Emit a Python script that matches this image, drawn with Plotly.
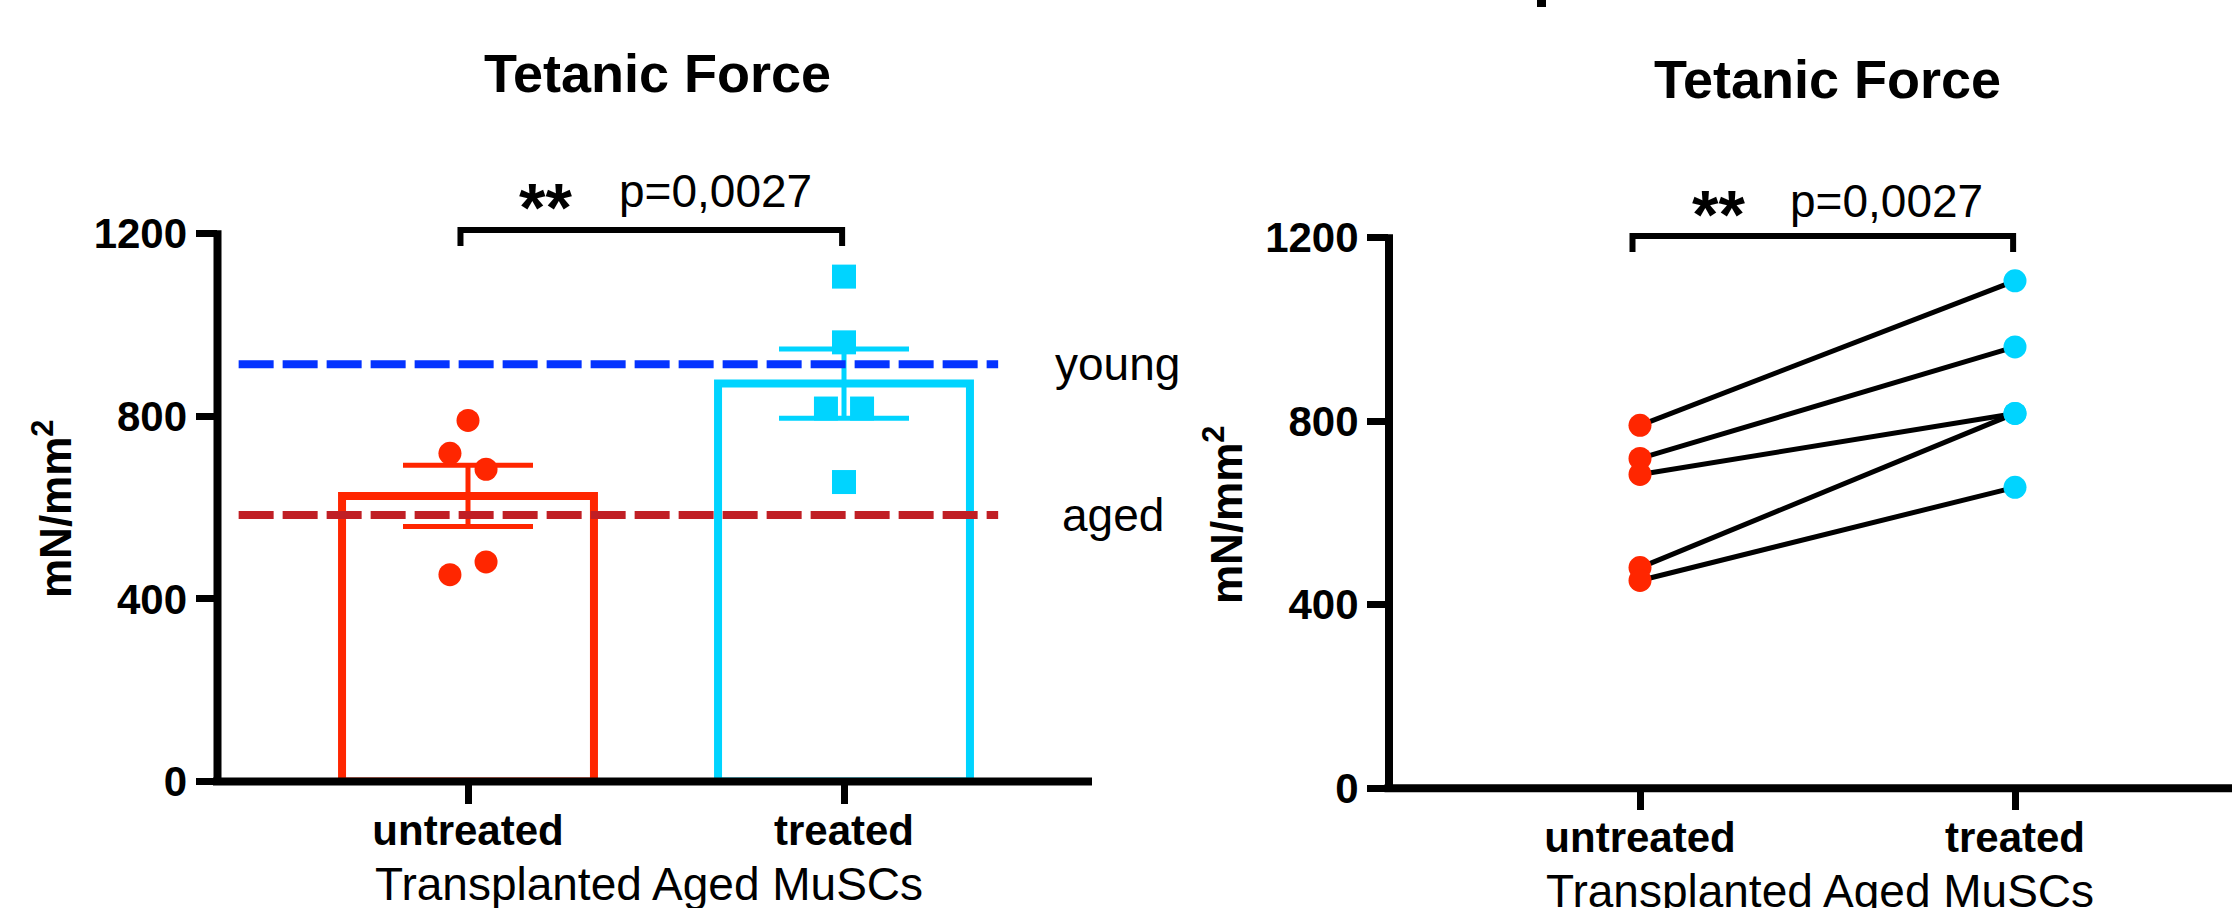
import numpy as np
import plotly.graph_objects as go

W, H = 2232, 908

# ---------------- data ----------------
categories = ["untreated", "treated"]
untreated_force = [791, 719, 684, 481, 453]
treated_force = [1106, 962, 817, 817, 656]
untreated_jitter = [0.0, -0.048, 0.048, 0.048, -0.048]
treated_jitter = [0.0, 0.0, -0.048, 0.048, 0.0]
young_ref = 914
aged_ref = 584
ref_labels = ["young", "aged"]
y_ticks = [0, 400, 800, 1200]
title_text = "Tetanic Force"
x_title = "Transplanted Aged MuSCs"
y_title = "mN/mm<sup>2</sup>"
sig_stars = "**"
p_label = "p=0,0027"

# ---------------- style ----------------
RED = "#FF2600"
CYAN = "#00D4FF"
BLUE = "#0433FF"
DARKRED = "#C01F25"
FONT = "Liberation Sans, Arial, Helvetica, sans-serif"


def fx(px):
    return px / W


def fy(py):
    return 1 - py / H


# panel geometry in pixels
L1, R1, B1, T1 = 217.5, 1092, 781.5, 233.7
L2, R2, B2, T2 = 1389, 2232, 788.3, 237.7
x1_range = [(L1 - 468) / 376, (R1 - 468) / 376]
x2_range = [(L2 - 1640) / 375, (R2 - 1640) / 375]

u = np.array(untreated_force, float)
t = np.array(treated_force, float)
means = [u.mean(), t.mean()]
sems = [u.std(ddof=1) / np.sqrt(len(u)), t.std(ddof=1) / np.sqrt(len(t))]
xpos = list(range(len(categories)))

fig = go.Figure()

# ---- left panel: bars with SEM ----
for i, col in enumerate([RED, CYAN]):
    fig.add_trace(go.Bar(
        x=[xpos[i]], y=[means[i]], width=0.67,
        marker=dict(color="rgba(0,0,0,0)", line=dict(color=col, width=8)),
        error_y=dict(type="data", array=[sems[i]], color=col, thickness=5, width=65),
        xaxis="x", yaxis="y", showlegend=False, hoverinfo="skip"))

# reference dashed lines
for val, col in [(young_ref, BLUE), (aged_ref, DARKRED)]:
    fig.add_trace(go.Scatter(
        x=[-0.61, 1.41], y=[val, val], mode="lines",
        line=dict(color=col, width=8, dash="35px,9px"),
        xaxis="x", yaxis="y", showlegend=False, hoverinfo="skip"))

# individual points
fig.add_trace(go.Scatter(
    x=[xpos[0] + j for j in untreated_jitter], y=untreated_force, mode="markers",
    marker=dict(symbol="circle", size=23, color=RED, line=dict(width=0)),
    xaxis="x", yaxis="y", showlegend=False))
fig.add_trace(go.Scatter(
    x=[xpos[1] + j for j in treated_jitter], y=treated_force, mode="markers",
    marker=dict(symbol="square", size=24, color=CYAN, line=dict(width=0)),
    xaxis="x", yaxis="y", showlegend=False))

# ---- right panel: paired lines ----
for a, b in zip(untreated_force, treated_force):
    fig.add_trace(go.Scatter(
        x=[xpos[0], xpos[1]], y=[a, b], mode="lines",
        line=dict(color="black", width=5),
        xaxis="x2", yaxis="y2", showlegend=False, hoverinfo="skip"))
fig.add_trace(go.Scatter(
    x=[xpos[0]] * len(untreated_force), y=untreated_force, mode="markers",
    marker=dict(symbol="circle", size=23, color=RED, line=dict(width=0)),
    xaxis="x2", yaxis="y2", showlegend=False))
fig.add_trace(go.Scatter(
    x=[xpos[1]] * len(treated_force), y=treated_force, mode="markers",
    marker=dict(symbol="circle", size=23, color=CYAN, line=dict(width=0)),
    xaxis="x2", yaxis="y2", showlegend=False))

# ---------------- axes ----------------
common = dict(showgrid=False, zeroline=False, showline=False, ticks="outside",
              ticklen=21, tickwidth=7, tickcolor="black", automargin=False,
              fixedrange=True,
              tickfont=dict(family=FONT, size=42, color="black", weight="bold"))

fig.update_layout(
    width=W, height=H,
    margin=dict(l=0, r=0, t=0, b=0),
    paper_bgcolor="white", plot_bgcolor="white",
    showlegend=False, barmode="overlay",
    xaxis=dict(domain=[fx(L1), fx(R1)], range=x1_range, tickvals=xpos,
               ticktext=categories, anchor="y", ticklabelstandoff=-9, **common),
    yaxis=dict(domain=[fy(B1), fy(T1)], range=[0, 1200], tickvals=y_ticks,
               anchor="x", **common),
    xaxis2=dict(domain=[fx(L2), 1.0], range=x2_range, tickvals=xpos,
                ticktext=categories, anchor="y2", ticklabelstandoff=-9, **common),
    yaxis2=dict(domain=[fy(B2), fy(T2)], range=[0, 1200], tickvals=y_ticks,
                anchor="x2", **common),
)

# ---------------- axis lines, brackets ----------------
shapes = []
for (L, R, B, T) in [(L1, R1, B1, T1), (L2, R2, B2, T2)]:
    shapes.append(dict(type="line", xref="paper", yref="paper",
                       x0=fx(L - 4.5), x1=fx(R), y0=fy(B), y1=fy(B),
                       line=dict(color="black", width=8)))
    shapes.append(dict(type="line", xref="paper", yref="paper",
                       x0=fx(L), x1=fx(L), y0=fy(B), y1=fy(T - 3.5),
                       line=dict(color="black", width=8)))

for xr, top, leg in [("x", 230, 246), ("x2", 236, 252)]:
    x0, x1 = -0.02, 0.995
    shapes.append(dict(type="path", xref=xr, yref="paper",
                       path=f"M {x0},{fy(leg)} L {x0},{fy(top)} L {x1},{fy(top)} L {x1},{fy(leg)}",
                       line=dict(color="black", width=6)))

# small cropped mark at the top edge
shapes.append(dict(type="rect", xref="paper", yref="paper",
                   x0=fx(1537), x1=fx(1546), y0=fy(0), y1=fy(7),
                   fillcolor="black", line=dict(width=0)))
fig.update_layout(shapes=shapes)

# ---------------- annotations ----------------
ann = []


def text(x, y, s, size, xref="paper", yref="paper", bold=False, xanchor="center",
         yanchor="middle", angle=0):
    ann.append(dict(x=x, y=y, xref=xref, yref=yref, text=s, showarrow=False,
                    xanchor=xanchor, yanchor=yanchor, textangle=angle,
                    font=dict(family=FONT, size=size, color="black",
                              weight="bold" if bold else "normal")))


# titles
text(0.505, fy(73), title_text, 54, xref="x", bold=True)
text(0.501, fy(79), title_text, 54, xref="x2", bold=True)
# significance
text(0.207, fy(207), sig_stars, 68, xref="x", bold=True)
text(0.658, fy(191), p_label, 46, xref="x")
text(0.209, fy(214), sig_stars, 68, xref="x2", bold=True)
text(0.657, fy(201), p_label, 46, xref="x2")
# reference labels
text(1.556, young_ref, ref_labels[0], 46, xref="x", yref="y", xanchor="left")
text(1.574, aged_ref, ref_labels[1], 46, xref="x", yref="y", xanchor="left")
# axis titles
text(0.481, fy(884), x_title, 46, xref="x")
text(0.481, fy(891), x_title, 46, xref="x2")
text(fx(52), fy(509), y_title, 44, bold=True, angle=-90)
text(fx(1223), fy(515), y_title, 44, bold=True, angle=-90)

fig.update_layout(annotations=ann)

fig.write_html(
    "out.html",
    config={"displayModeBar": False},
    post_script="document.body.style.margin='0';document.body.style.overflow='hidden';",
)
